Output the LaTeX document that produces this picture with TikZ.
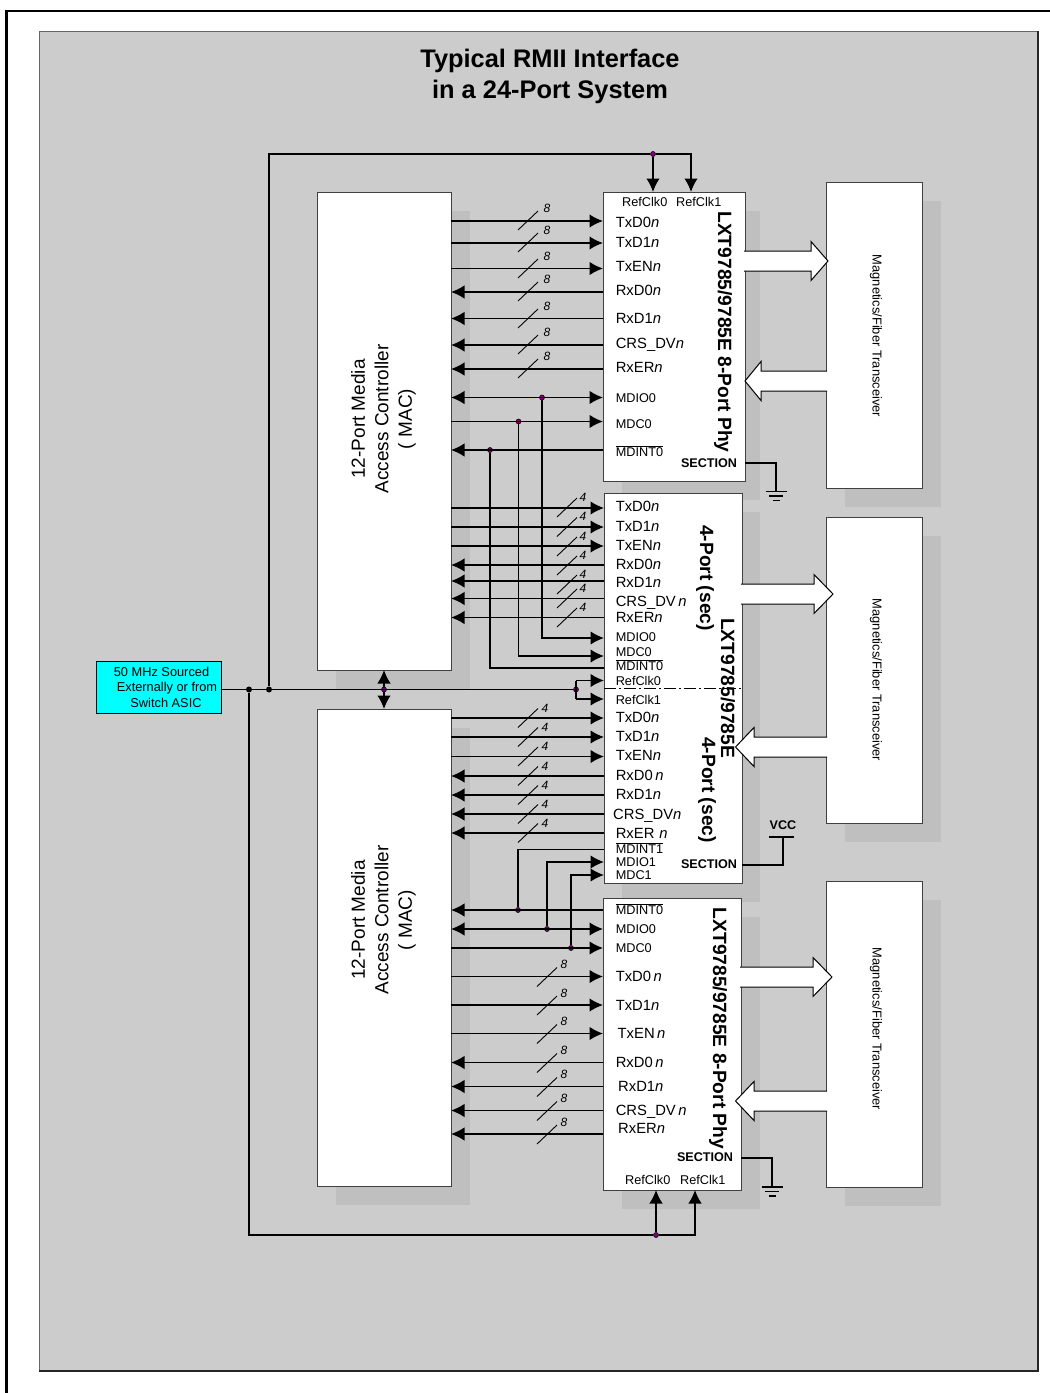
\documentclass[tikz,border=0pt]{standalone}
\usepackage{fontspec}
\setmainfont{Liberation Sans}
\usetikzlibrary{arrows.meta}
\definecolor{panelgray}{HTML}{CCCCCC}
\definecolor{shadowgray}{HTML}{BFBFBF}
\definecolor{dotpurple}{HTML}{800080}
\definecolor{clkcyan}{HTML}{00FFFF}
\tikzset{
  wire/.style={line width=1.5pt, >={Latex[length=13.5pt,width=13.5pt]}},
  thinbox/.style={draw=black!75, line width=0.9pt, fill=white, inner sep=0pt, outer sep=0pt},
  junction/.style={circle, draw=black, fill=dotpurple, line width=0.6pt, inner sep=0pt, minimum size=5pt},
  blackdot/.style={circle, fill=black, inner sep=0pt, minimum size=6pt},
  sig/.style={anchor=base west, yshift=-5pt, inner sep=0pt, font=\fontsize{14.8}{16}\selectfont},
  sigsmall/.style={anchor=base west, yshift=-4.5pt, inner sep=0pt, font=\fontsize{12.7}{14}\selectfont},
  boldsmall/.style={inner sep=0pt, font=\bfseries\fontsize{12.6}{14}\selectfont},
  buswidth/.style={inner sep=0pt, font=\itshape\fontsize{12}{14}\selectfont},
  vertitle/.style={rotate=-90, inner sep=0pt, font=\bfseries\fontsize{19.2}{21}\selectfont},
  mactext/.style={rotate=90, align=center, inner sep=0pt, font=\fontsize{19}{23.5}\selectfont},
  magtext/.style={rotate=-90, inner sep=0pt, font=\fontsize{12.9}{14}\selectfont},
  wideedge/.style={draw=black, line width=1pt, fill=white}
}
\begin{document}
\begin{tikzpicture}[x=1pt, y=-1pt]
    \useasboundingbox (0,0) rectangle (1050,1393);

    % Frame and panel
    \draw[line width=2.5pt] (6.5,1393) |- (1050,11);
    \draw[line width=1pt, draw=black!60, fill=panelgray] (39,31) rectangle (1038,1371);
    \draw[line width=1.8pt, draw=black!85] (39,1371) -- (1038,1371) -- (1038,31);

    % Title
    \node[inner sep=0pt, align=center, font=\bfseries\fontsize{25.4}{31.5}\selectfont] (title) at (550,76.5)
        {Typical RMII Interface\\in a 24-Port System};

    % Shadows
    \foreach \xa/\ya/\xb/\yb in {336/211/470/689, 336/728/470/1205, 622/211/760/500, 622/512/760/902,
                                 622/917/760/1209, 845/201/941/507, 845/536/941/842, 845/900/941/1206}
        \fill[shadowgray] (\xa,\ya) rectangle (\xb,\yb);

    % Boxes
    \node[thinbox, minimum width=134pt, minimum height=478pt] (maca) at (384,431) {};
    \node[thinbox, minimum width=134pt, minimum height=477pt] (macb) at (384,947.5) {};
    \node[thinbox, minimum width=142pt, minimum height=289pt] (phya) at (674,336.5) {};
    \node[thinbox, minimum width=138pt, minimum height=390pt] (secb) at (673,688.5) {};
    \node[thinbox, minimum width=138pt, minimum height=292pt] (phyc) at (672,1044) {};
    \node[thinbox, minimum width=96pt, minimum height=306pt] (xcvra) at (874,335) {};
    \node[thinbox, minimum width=96pt, minimum height=306pt] (xcvrb) at (874,670) {};
    \node[thinbox, minimum width=96pt, minimum height=306pt] (xcvrc) at (874,1034) {};
    \node[draw=black, line width=1pt, fill=clkcyan, inner sep=0pt, minimum width=125pt, minimum height=52pt,
          align=center, font=\fontsize{12.8}{15.5}\selectfont] (clkbox) at (158.5,687)
        {\hspace*{6pt}50 MHz Sourced\\\hspace*{17pt}Externally or from\\\hspace*{15pt}Switch ASIC};

    % Box texts
    \node[mactext] (macatext) at (383.5,419) {12-Port Media\\Access Controller\\( MAC)};
    \node[mactext] (macbtext) at (383.5,920) {12-Port Media\\Access Controller\\( MAC)};
    \node[magtext] (xcvratext) at (876,336) {Magnetics/Fiber Transceiver};
    \node[magtext] (xcvrbtext) at (876,680) {Magnetics/Fiber Transceiver};
    \node[magtext] (xcvrctext) at (876,1029) {Magnetics/Fiber Transceiver};
    \node[vertitle] (phyatitle) at (723,332) {LXT9785/9785E 8-Port Phy};
    \node[vertitle] (secbtitle) at (728,688) {LXT9785/9785E};
    \node[vertitle] (secbupper) at (705,578) {4-Port (sec)};
    \node[vertitle] (secblower) at (707,790) {4-Port (sec)};
    \node[vertitle] (phyctitle) at (718,1028.5) {LXT9785/9785E 8-Port Phy};

    % Wide arrows to the transceivers
    \foreach \from/\to/\hx/\tx/\y in {phya/xcvra/811/828/261, secb/xcvrb/814/833/594, phyc/xcvrc/813/832/977}
        \draw[wideedge] ([xshift=-1pt]\from.east |- 0,\y-10) -- (\hx,\y-10) -- (\hx,\y-19.5) -- (\tx,\y)
            -- (\hx,\y+19.5) -- (\hx,\y+10) -- ([xshift=-1pt]\from.east |- 0,\y+10);
    % Wide arrows back from the transceivers
    \foreach \from/\hx/\tx/\y in {xcvra/761/745/381, xcvrb/754/735.5/747, xcvrc/754/735.5/1101}
        \draw[wideedge] ([xshift=1pt]\from.west |- 0,\y-10) -- (\hx,\y-10) -- (\hx,\y-19.5) -- (\tx,\y)
            -- (\hx,\y+19.5) -- (\hx,\y+10) -- ([xshift=1pt]\from.west |- 0,\y+10);

    % Clock tree
    \node[blackdot] (clkup) at (269,689.5) {};
    \node[blackdot] (clkdown) at (249,689.5) {};
    \node[junction] (jrefs) at (576,689.5) {};
    \node[junction] (jmac) at (384,689.5) {};
    \node[junction] (jtop) at (653,154) {};
    \node[junction] (jbot) at (656,1235) {};
    \coordinate (refa) at (691,192);
    \coordinate (refc) at (695,1190);
    \coordinate (refup) at (576,680.5);
    \coordinate (refdn) at (576,699);
    \begin{scope}[wire]
        \draw (clkbox.east |- jrefs) -- (jrefs);
        \draw (clkup) |- (jtop);
        \draw[->] (jtop) -- (jtop |- phya.north);
        \draw[->] (jtop) -| (refa);
        \draw (clkdown) |- (jbot);
        \draw[->] (jbot) -- (jbot |- phyc.south);
        \draw[->] (jbot) -| (refc);
        \draw[->] (jmac) -- (maca.south);
        \draw[->] (jmac) -- (macb.north);
        \draw (refup) -- (refdn);
        \draw[->] (refup) -- (secb.west |- refup);
        \draw[->] (refdn) -- (secb.west |- refdn);
    \end{scope}
    \draw[line width=1pt, dash pattern=on 12pt off 3pt on 2pt off 3pt] (secb.west |- 0,688) -- (secb.east |- 0,688);

    % Upper PHY, data rows
    \begin{scope}[wire]
        \foreach \y in {221,243,268.5}
            \draw[->] (maca.east |- 0,\y) -- (phya.west |- 0,\y);
        \foreach \y in {292,318.5,345,369}
            \draw[->] (phya.west |- 0,\y) -- (maca.east |- 0,\y);
        \foreach \y [count=\i] in {221,243,269,292,319,345,369} {
            \draw[line width=0.9pt] (518,\y+9) -- (538,\y-10);
            \node[buswidth] (wa\i) at (547,\y-13) {8};
        }
    \end{scope}
    \foreach \y/\t [count=\i] in {222/TxD0, 242/TxD1, 266/TxEN, 290/RxD0, 318/RxD1, 343/CRS\_DV, 367/RxER}
        \node[sig] (pa\i) at (615.6,\y) {\t\textit{n}};
    \node[sigsmall] (refa0) at (622,201.5) {RefClk0};
    \node[sigsmall] (refa1) at (676,201.5) {RefClk1};
    \node[sigsmall] (mdioa) at (615.6,397.5) {MDIO0};
    \node[sigsmall] (mdca) at (615.6,424) {MDC0};
    \node[sigsmall] (mdinta) at (615.6,452) {$\overline{\hbox{MDINT0}}$};
    \node[boldsmall] (secta) at (709,463.5) {SECTION};

    % Middle section, upper half
    \begin{scope}[wire]
        \foreach \y in {508,527,546}
            \draw[->] (maca.east |- 0,\y) -- (secb.west |- 0,\y);
        \foreach \y in {565,581,598.5,617.5}
            \draw[->] (secb.west |- 0,\y) -- (maca.east |- 0,\y);
        \foreach \y [count=\i] in {507.5,527,546.5,565.5,584.5,598.5,617.5} {
            \draw[line width=0.9pt] (557,\y+9.5) -- (577,\y-9.5);
            \node[buswidth] (wb\i) at (583,\y-10.5) {4};
        }
    \end{scope}
    \foreach \y/\t [count=\i] in {506.5/TxD0, 526/TxD1, 545/TxEN, 564/RxD0, 582/RxD1, 601/CRS\_DV\,, 617/RxER}
        \node[sig] (pb\i) at (615.6,\y) {\t\textit{n}};
    \node[sigsmall] (mdiob) at (615.6,637) {MDIO0};
    \node[sigsmall] (mdcb) at (615.6,652) {MDC0};
    \node[sigsmall] (mdintb) at (615.6,666) {$\overline{\hbox{MDINT0}}$};
    \node[sigsmall] (refb0) at (615.6,680.5) {RefClk0};
    \node[sigsmall] (refb1) at (615.6,700) {RefClk1};

    % Middle section, lower half
    \begin{scope}[wire]
        \foreach \y in {718,737,756.5}
            \draw[->] (macb.east |- 0,\y) -- (secb.west |- 0,\y);
        \foreach \y in {776,795,814,833}
            \draw[->] (secb.west |- 0,\y) -- (macb.east |- 0,\y);
        \foreach \y [count=\i] in {718,737,756.5,776,795,814,833} {
            \draw[line width=0.9pt] (518,\y+9.5) -- (538,\y-9.5);
            \node[buswidth] (wc\i) at (545,\y-10) {4};
        }
    \end{scope}
    \foreach \x/\y/\t [count=\i] in {615.6/717/TxD0, 615.6/736/TxD1, 615.6/755/TxEN, 615.6/775/RxD0\,,
                                     615.6/794/RxD1, 613/814/CRS\_DV, 615.6/833/RxER\,\,}
        \node[sig] (pc\i) at (\x,\y) {\t\textit{n}};
    \node[sigsmall] (mdintc) at (615.6,849) {$\overline{\hbox{MDINT1}}$};
    \node[sigsmall] (mdioc) at (615.6,862) {MDIO1};
    \node[sigsmall] (mdcc) at (615.6,874.5) {MDC1};
    \node[boldsmall] (sectb) at (709,864.5) {SECTION};

    % Lower PHY, data rows
    \begin{scope}[wire]
        \foreach \y in {976.5,1005,1033.5}
            \draw[->] (macb.east |- 0,\y) -- (phyc.west |- 0,\y);
        \foreach \y in {1062.5,1086.5,1110.5,1134}
            \draw[->] (phyc.west |- 0,\y) -- (macb.east |- 0,\y);
        \foreach \y [count=\i] in {976.5,1005,1033.5,1062.5,1086.5,1110.5,1134} {
            \draw[line width=0.9pt] (537,\y+10) -- (557,\y-9);
            \node[buswidth] (wd\i) at (564,\y-12) {8};
        }
    \end{scope}
    \foreach \x/\y/\t [count=\i] in {615.6/976/TxD0\,, 615.6/1005/TxD1, 617.5/1033/TxEN\,, 615.6/1062/RxD0\,,
                                     618/1086/RxD1, 615.6/1110/CRS\_DV\,, 618/1128/RxER}
        \node[sig] (pd\i) at (\x,\y) {\t\textit{n}};
    \node[sigsmall] (mdintd) at (615.6,910) {$\overline{\hbox{MDINT0}}$};
    \node[sigsmall] (mdiod) at (615.6,929) {MDIO0};
    \node[sigsmall] (mdcd) at (615.6,948) {MDC0};
    \node[boldsmall] (sectc) at (705,1157.5) {SECTION};
    \node[sigsmall] (refd0) at (625,1179.5) {RefClk0};
    \node[sigsmall] (refd1) at (680,1179.5) {RefClk1};

    % Management lines, upper
    \node[junction] (jmdioa) at (542,397.5) {};
    \node[junction] (jmdca) at (518.5,421.5) {};
    \node[junction] (jinta) at (490,450) {};
    \begin{scope}[wire]
        \draw[<->] (maca.east |- jmdioa) -- (phya.west |- jmdioa);
        \draw[->] (maca.east |- jmdca) -- (phya.west |- jmdca);
        \draw[->] (phya.west |- jinta) -- (maca.east |- jinta);
        \draw[->] (jmdioa) |- (secb.west |- 0,638);
        \draw[->] (jmdca) |- (secb.west |- 0,656);
        \draw (jinta) |- (secb.west |- 0,668);
    \end{scope}

    % Management lines, lower
    \node[junction] (jintc) at (518,910) {};
    \node[junction] (jmdioc) at (547,929) {};
    \node[junction] (jmdcc) at (571,948) {};
    \begin{scope}[wire]
        \draw[->] (phyc.west |- jintc) -- (macb.east |- jintc);
        \draw[<->] (macb.east |- jmdioc) -- (phyc.west |- jmdioc);
        \draw[->] (macb.east |- jmdcc) -- (phyc.west |- jmdcc);
        \draw (jintc) |- (secb.west |- 0,849.5);
        \draw[->] (jmdioc) |- (secb.west |- 0,862);
        \draw[->] (jmdcc) |- (secb.west |- 0,875);
    \end{scope}

    % Ground and supply
    \coordinate (gnda) at (776,491.5);
    \coordinate (gndc) at (772,1187);
    \coordinate (vcc) at (783,837);
    \begin{scope}[wire]
        \draw (phya.east |- 0,463) -| (gnda);
        \draw (phyc.east |- 0,1158) -| (gndc);
        \draw (secb.east |- 0,865) -| (vcc);
        \draw ([xshift=-14pt]vcc) -- ([xshift=11pt]vcc);
        \foreach \g in {gnda, gndc} {
            \draw ([xshift=-10.5pt]\g) -- ([xshift=10.5pt]\g);
            \draw ([xshift=-7pt,yshift=-4.5pt]\g) -- ([xshift=7pt,yshift=-4.5pt]\g);
            \draw ([xshift=-3.5pt,yshift=-9pt]\g) -- ([xshift=3.5pt,yshift=-9pt]\g);
        }
    \end{scope}
    \node[boldsmall] (vcctext) at (783,825.5) {VCC};
\end{tikzpicture}
\end{document}
